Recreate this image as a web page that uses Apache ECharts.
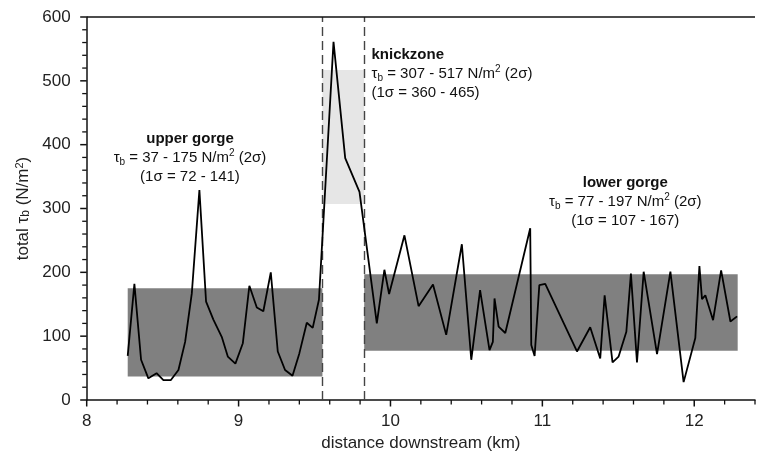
<!DOCTYPE html>
<html>
<head>
<meta charset="utf-8">
<script src="https://cdn.jsdelivr.net/npm/echarts@6/dist/echarts.min.js"></script>
<style>
  html, body { margin: 0; padding: 0; background: #fff; }
  #chart { width: 759px; height: 460px; }
</style>
</head>
<body>
<div id="chart"></div>
<script>
// ---- data ----
const distanceKm = [
  8.27, 8.314, 8.358, 8.406, 8.46, 8.505, 8.553, 8.604, 8.648, 8.692,
  8.742, 8.786, 8.834, 8.889, 8.929, 8.979, 9.028, 9.071, 9.12, 9.163,
  9.212, 9.258, 9.306, 9.355, 9.40, 9.449, 9.488, 9.529, 9.625, 9.702,
  9.796, 9.91, 9.96, 9.991, 10.092, 10.185, 10.28, 10.367, 10.47, 10.532,
  10.59, 10.652, 10.674, 10.685, 10.712, 10.756, 10.92, 10.927, 10.949, 10.98,
  11.019, 11.228, 11.315, 11.381, 11.41, 11.462, 11.502, 11.553, 11.583, 11.623,
  11.667, 11.755, 11.843, 11.93, 12.007, 12.034, 12.051, 12.073, 12.124, 12.177,
  12.238, 12.282
];
const totalTau = [
  69, 182, 63, 34, 42, 31, 31, 47, 91, 167,
  329, 154, 126, 99, 68, 57, 89, 179, 145, 139,
  200, 76, 47, 38, 73, 121, 113, 157, 561, 379,
  326, 120, 204, 166, 258, 147, 181, 102, 244, 63,
  172, 78, 91, 159, 115, 105, 269, 86, 69, 180,
  182, 76, 114, 65, 164, 59, 68, 107, 198, 59,
  201, 72, 201, 28, 97, 210, 158, 164, 125, 203,
  123, 131
];
const reachNames = ['upper gorge', 'knickzone', 'lower gorge'];
const reachX = [[8.27, 9.552], [9.552, 9.827], [9.827, 12.286]];
const reach2Sigma = [[37, 175], [307, 517], [77, 197]];
const reach1Sigma = [[72, 141], [360, 465], [107, 167]];
const reachBoundaries = [9.552, 9.827];
const labelAnchors = [[8.68, 379], [9.875, 511], [11.546, 310]];
const xTickLabels = [8, 9, 10, 11, 12];
const yTickLabels = [0, 100, 200, 300, 400, 500, 600];
const xMinorStep = 0.2;
const yMinorStep = 20;

// ---- build ----
const FONT = 'Liberation Sans, Arial, sans-serif';
const X_MIN = 8, X_MAX = 12.4, Y_MIN = 0, Y_MAX = 600;
const lineData = distanceKm.map((x, i) => [x, totalTau[i]]);
const boxColors = ['#808080', '#e6e6e6', '#808080'];

const areaData = reachX.map((xr, i) => [
  { xAxis: xr[0], yAxis: reach2Sigma[i][0], itemStyle: { color: boxColors[i], opacity: 1 } },
  { xAxis: xr[1], yAxis: reach2Sigma[i][1] }
]);

const rich = {
  b: { fontFamily: FONT, fontSize: 15, fontWeight: 'bold', lineHeight: 19, color: '#111' },
  n: { fontFamily: FONT, fontSize: 15, lineHeight: 19, color: '#111' },
  sub: { fontFamily: FONT, fontSize: 10, lineHeight: 10, verticalAlign: 'bottom', color: '#111' },
  sup: { fontFamily: FONT, fontSize: 10, lineHeight: 11, verticalAlign: 'top', color: '#111' }
};

const pointData = reachNames.map((name, i) => ({
  coord: labelAnchors[i],
  label: {
    align: i === 1 ? 'left' : 'center',
    formatter:
      '{b|' + name + '}\n' +
      '{n|τ}{sub|b}{n| = ' + reach2Sigma[i][0] + ' - ' + reach2Sigma[i][1] + ' N/m}{sup|2}{n| (2σ)}\n' +
      '{n|(1σ = ' + reach1Sigma[i][0] + ' - ' + reach1Sigma[i][1] + ')}'
  }
}));

const TICK = { color: '#111', major: 6.5, minor: 4.5, wMajor: 1.5, wMinor: 1.3 };

const chart = echarts.init(document.getElementById('chart'));
chart.setOption({
  animation: false,
  grid: { left: 86.7, right: 4, top: 17, bottom: 60 },
  xAxis: {
    type: 'value', min: X_MIN, max: X_MAX, interval: 1, position: 'bottom',
    name: 'distance downstream (km)', nameLocation: 'middle', nameGap: 32,
    nameTextStyle: { fontFamily: FONT, fontSize: 17, color: '#222' },
    axisLine: { show: true, onZero: false, lineStyle: { color: '#111', width: 1.5 } },
    axisTick: { show: false },
    axisLabel: { show: true, customValues: xTickLabels, margin: 13, fontFamily: FONT, fontSize: 17, color: '#222' },
    splitLine: { show: false }
  },
  yAxis: {
    type: 'value', min: Y_MIN, max: Y_MAX, interval: 100,
    name: 'total τ{sub|b} (N/m{sup|2})', nameLocation: 'middle', nameGap: 50,
    nameTextStyle: {
      fontFamily: FONT, fontSize: 17, color: '#222',
      rich: {
        sub: { fontFamily: FONT, fontSize: 12, lineHeight: 12, verticalAlign: 'bottom', color: '#222' },
        sup: { fontFamily: FONT, fontSize: 11, lineHeight: 12, verticalAlign: 'top', color: '#222' }
      }
    },
    axisLine: { show: true, onZero: false, lineStyle: { color: '#111', width: 1.5 } },
    axisTick: { show: false },
    minorTick: { show: false },
    axisLabel: { margin: 16, fontFamily: FONT, fontSize: 17, color: '#222' },
    splitLine: { show: false }
  },
  series: [
    {
      name: 'boxes', type: 'line', data: [], z: 1, silent: true,
      markArea: { silent: true, data: areaData },
      markLine: {
        silent: true, symbol: ['none', 'none'], label: { show: false },
        lineStyle: { type: [9, 5], color: '#444', width: 1.4 },
        data: reachBoundaries.map(v => ({ xAxis: v }))
      }
    },
    {
      name: 'frame', type: 'line', data: [], z: 2, silent: true,
      markLine: {
        silent: true, symbol: ['none', 'none'], label: { show: false },
        lineStyle: { type: 'solid', color: '#111', width: 1.5 },
        data: [{ yAxis: Y_MAX }]
      }
    },
    {
      name: 'tau', type: 'line', data: lineData, z: 5,
      showSymbol: false, symbol: 'none',
      lineStyle: { color: '#000', width: 1.8 },
      markPoint: {
        silent: true, symbol: 'circle', symbolSize: 1,
        itemStyle: { color: 'rgba(0,0,0,0)' },
        label: { show: true, position: 'inside', rich: rich },
        data: pointData
      }
    }
  ]
});

// Tick marks, placed through the axes' own scales (convertToPixel).
const px = v => chart.convertToPixel({ xAxisIndex: 0 }, v);
const py = v => chart.convertToPixel({ yAxisIndex: 0 }, v);
const baseX = px(X_MIN), baseY = py(Y_MIN);
const tickEls = [];
function addX(v, len, w) {
  const x = px(v);
  tickEls.push({ type: 'line', silent: true, z: 10,
    shape: { x1: x, y1: baseY, x2: x, y2: baseY + len },
    style: { stroke: TICK.color, lineWidth: w } });
}
function addY(v, len, w) {
  const y = py(v);
  tickEls.push({ type: 'line', silent: true, z: 10,
    shape: { x1: baseX, y1: y, x2: baseX - len, y2: y },
    style: { stroke: TICK.color, lineWidth: w } });
}
for (let k = 0; X_MIN + k * xMinorStep <= X_MAX + 1e-9; k++) {
  const v = +(X_MIN + k * xMinorStep).toFixed(2);
  if (xTickLabels.indexOf(v) >= 0) addX(v, TICK.major, TICK.wMajor);
  else addX(v, TICK.minor, TICK.wMinor);
}
for (let k = 0; Y_MIN + k * yMinorStep <= Y_MAX; k++) {
  const v = Y_MIN + k * yMinorStep;
  if (yTickLabels.indexOf(v) >= 0) addY(v, TICK.major, TICK.wMajor);
  else addY(v, TICK.minor, TICK.wMinor);
}
chart.setOption({ graphic: { elements: tickEls } });
</script>
</body>
</html>
